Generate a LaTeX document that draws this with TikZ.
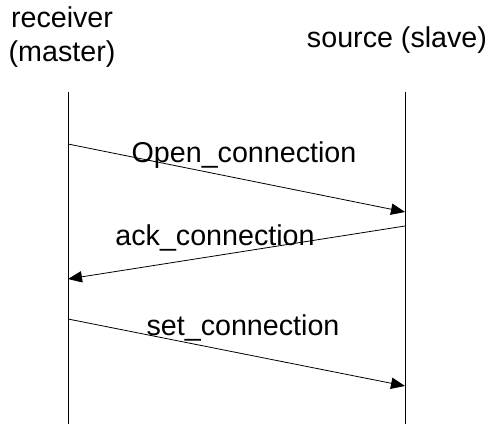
\documentclass[tikz,border=0pt]{standalone}
\usepackage{fontspec}
\setmainfont{Liberation Sans}
\usetikzlibrary{arrows.meta, positioning}

\begin{document}
\begin{tikzpicture}[
    x=0.75pt, y=-0.75pt,
    party/.style={font=\fontsize{21.5}{26}\selectfont, align=center, inner sep=0pt},
    msglabel/.style={font=\fontsize{21.5}{26}\selectfont, anchor=base, inner sep=0pt},
    lifeline/.style={draw, line width=0.65pt},
    message/.style={-{Triangle[length=10.5pt, width=8.5pt]}, line width=0.6pt}
]
    \useasboundingbox (0,0) rectangle (488,424);

    % Parties
    \node[party] (receiver) at (62,37) {receiver\\(master)};
    \node[party] (source) at (397,40) {source (slave)};

    % Lifelines
    \coordinate (recvtop) at (68,92);
    \coordinate (recvbot) at (68,424);
    \coordinate (srctop) at (405,92);
    \coordinate (srcbot) at (405,424);
    \draw[lifeline] (recvtop) -- (recvbot);
    \draw[lifeline] (srctop) -- (srcbot);

    % Message end points
    \coordinate (open-from) at (68,144);
    \coordinate (open-to) at (405,212);
    \coordinate (ack-from) at (405,226);
    \coordinate (ack-to) at (68,279);
    \coordinate (set-from) at (68,319);
    \coordinate (set-to) at (405,386);

    % Messages
    \draw[message] (open-from) -- (open-to);
    \node[msglabel] (openlbl) at (244,162) {Open\_connection};

    \draw[message] (ack-from) -- (ack-to);
    \node[msglabel] (acklbl) at (215,245) {ack\_connection};

    \draw[message] (set-from) -- (set-to);
    \node[msglabel] (setlbl) at (243,335) {set\_connection};
\end{tikzpicture}
\end{document}
